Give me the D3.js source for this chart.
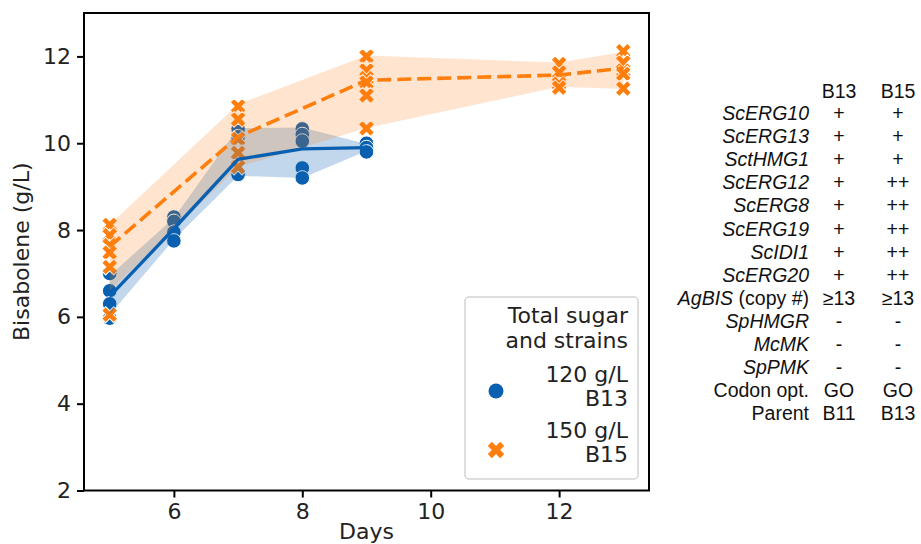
<!DOCTYPE html>
<html><head><meta charset="utf-8">
<script src="https://cdn.jsdelivr.net/npm/d3@7"></script>
<style>body{margin:0;background:#fff}svg{display:block}</style>
</head><body>
<svg id="c" width="921" height="544"></svg>
<script>
// ---- data ----
const xTicks = [6, 8, 10, 12];
const yTicks = [2, 4, 6, 8, 10, 12];

const b13Days = [5, 5, 5, 5, 6, 6, 6, 6, 7, 7, 7, 8, 8, 8, 8, 8, 9, 9, 9];
const b13Vals = [7.0, 6.6, 6.3, 5.97, 8.3, 8.2, 7.95, 7.75, 10.33, 10.15, 9.28, 10.33, 10.2, 10.05, 9.43, 9.2, 10.0, 9.9, 9.8];
const b13MeanDays = [5, 6, 7, 8, 9];
const b13Mean = [6.47, 8.03, 9.63, 9.87, 9.9];
const b13Low  = [6.05, 7.78, 9.25, 9.2, 9.82];
const b13High = [6.95, 8.28, 10.35, 10.36, 9.98];

const b15Days = [5, 5, 5, 5, 5, 5, 7, 7, 7, 7, 7, 9, 9, 9, 9, 9, 9, 12, 12, 12, 12, 13, 13, 13, 13, 13];
const b15Vals = [8.12, 7.88, 7.65, 7.48, 7.15, 6.05, 10.85, 10.55, 10.1, 9.78, 9.45, 12.0, 11.68, 11.5, 11.4, 11.1, 10.34, 11.83, 11.63, 11.37, 11.28, 12.12, 11.86, 11.67, 11.6, 11.26];
const b15MeanDays = [5, 7, 9, 12, 13];
const b15Mean = [7.62, 10.15, 11.45, 11.57, 11.73];
const b15Low  = [6.6, 9.45, 10.35, 11.3, 11.25];
const b15High = [8.12, 10.9, 12.02, 11.86, 12.1];

const legendTitle = ["Total sugar", "and strains"];
const legendItems = [["120 g/L", "B13"], ["150 g/L", "B15"]];

const tableHeader = ["B13", "B15"];
const tableLabels = ["ScERG10","ScERG13","SctHMG1","ScERG12","ScERG8","ScERG19","ScIDI1","ScERG20","AgBIS","SpHMGR","McMK","SpPMK","Codon opt.","Parent"];
const tableItalic = [true,true,true,true,true,true,true,true,true,true,true,true,false,false];
const tableB13 = ["+","+","+","+","+","+","+","+","≥13","-","-","-","GO","B11"];
const tableB15 = ["+","+","+","++","++","++","++","++","≥13","-","-","-","GO","B13"];

// ---- layout ----
const BLUE = "#0a60b0", ORANGE = "#ff7f0e";
const svg = d3.select("#c");
const L = 84, R = 649, T = 13, B = 490.5;
const x = d3.scaleLinear().domain([4.6, 13.4]).range([L, R]);
const y = d3.scaleLinear().domain([2, 13]).range([B, T]);
const FONT = "DejaVu Sans, sans-serif";
const FS = 22;

const plot = svg.append("g");

// scatter points
const b13 = b13Days.map((d, i) => ({d, v: b13Vals[i]}));
const b15 = b15Days.map((d, i) => ({d, v: b15Vals[i]}));
plot.selectAll("circle.b13").data(b13).join("circle")
  .attr("cx", p => x(p.d)).attr("cy", p => y(p.v)).attr("r", 7.3)
  .attr("fill", BLUE).attr("stroke", "#fff").attr("stroke-width", 1);
const xSym = d3.symbol(d3.symbolCross, 160);
plot.selectAll("path.b15").data(b15).join("path")
  .attr("d", xSym)
  .attr("transform", p => `translate(${x(p.d)},${y(p.v)}) rotate(45)`)
  .attr("fill", ORANGE).attr("stroke", "#fff").attr("stroke-width", 1);

// bands
function band(days, lo, hi, color, op) {
  const pts = days.map((d, i) => ({d, lo: lo[i], hi: hi[i]}));
  plot.append("path").datum(pts)
    .attr("d", d3.area().x(p => x(p.d)).y0(p => y(p.lo)).y1(p => y(p.hi)))
    .attr("fill", color).attr("fill-opacity", op).attr("stroke", "none");
}
band(b13MeanDays, b13Low, b13High, BLUE, 0.25);
band(b15MeanDays, b15Low, b15High, ORANGE, 0.2);

// lines
function line(days, m, color, w, dash) {
  const pts = days.map((d, i) => ({d, v: m[i]}));
  const p = plot.append("path").datum(pts)
    .attr("d", d3.line().x(q => x(q.d)).y(q => y(q.v)))
    .attr("fill", "none").attr("stroke", color).attr("stroke-width", w);
  if (dash) p.attr("stroke-dasharray", dash);
}
line(b13MeanDays, b13Mean, BLUE, 3.3);
line(b15MeanDays, b15Mean, ORANGE, 3.6, "14,6");

// axes
const xa = svg.append("g").attr("transform", `translate(0,${B})`)
  .call(d3.axisBottom(x).tickValues(xTicks).tickSize(7).tickPadding(6).tickFormat(d3.format("d")));
const ya = svg.append("g").attr("transform", `translate(${L},0)`)
  .call(d3.axisLeft(y).tickValues(yTicks).tickSize(7).tickPadding(6).tickFormat(d3.format("d")));
[xa, ya].forEach(a => {
  a.select(".domain").remove();
  a.selectAll(".tick line").attr("stroke", "#000").attr("stroke-width", 2);
  a.selectAll(".tick text").attr("font-family", FONT).attr("font-size", FS).attr("fill", "#222");
});
svg.append("rect").attr("x", L).attr("y", T).attr("width", R - L).attr("height", B - T)
  .attr("fill", "none").attr("stroke", "#000").attr("stroke-width", 2);

svg.append("text").attr("x", (L + R) / 2).attr("y", 539).attr("text-anchor", "middle")
  .attr("font-family", FONT).attr("font-size", FS).attr("fill", "#222").text("Days");
svg.append("text").attr("transform", `translate(29,${(T + B) / 2}) rotate(-90)`)
  .attr("text-anchor", "middle").attr("font-family", FONT).attr("font-size", FS).attr("fill", "#222")
  .text("Bisabolene (g/L)");

// legend
const lg = svg.append("g");
lg.append("rect").attr("x", 465).attr("y", 297).attr("width", 173).attr("height", 182).attr("rx", 4)
  .attr("fill", "#fff").attr("fill-opacity", 0.85).attr("stroke", "#d4d4d4").attr("stroke-width", 1.5);
legendTitle.forEach((t, i) => lg.append("text").attr("x", 628).attr("y", 323 + i * 25)
  .attr("text-anchor", "end").attr("font-family", FONT).attr("font-size", FS).attr("fill", "#222").text(t));
legendItems.forEach((it, i) => {
  it.forEach((t, j) => lg.append("text").attr("x", 628).attr("y", 382 + i * 56 + j * 23.5)
    .attr("text-anchor", "end").attr("font-family", FONT).attr("font-size", FS).attr("fill", "#222").text(t));
});
lg.append("circle").attr("cx", 496).attr("cy", 391).attr("r", 7.5).attr("fill", BLUE);
lg.append("path").attr("d", d3.symbol(d3.symbolCross, 170)).attr("transform", "translate(496,450) rotate(45)").attr("fill", ORANGE);

// table
const TF = "Liberation Sans, Arial, sans-serif", TS = 19.5;
const tg = svg.append("g").attr("font-family", TF).attr("font-size", TS).attr("fill", "#111");
tableHeader.forEach((h, i) => tg.append("text").attr("x", [839, 898][i]).attr("y", 98)
  .attr("text-anchor", "middle").text(h));
tableLabels.forEach((lab, i) => {
  const yy = 120 + i * 23.1;
  const t = tg.append("text").attr("x", 809).attr("y", yy).attr("text-anchor", "end");
  if (lab === "AgBIS") {
    t.append("tspan").attr("font-style", "italic").text("AgBIS");
    t.append("tspan").text(" (copy #)");
  } else {
    t.attr("font-style", tableItalic[i] ? "italic" : "normal").text(lab);
  }
  tg.append("text").attr("x", 839).attr("y", yy).attr("text-anchor", "middle").text(tableB13[i]);
  tg.append("text").attr("x", 898).attr("y", yy).attr("text-anchor", "middle").text(tableB15[i]);
});
</script>
</body></html>
